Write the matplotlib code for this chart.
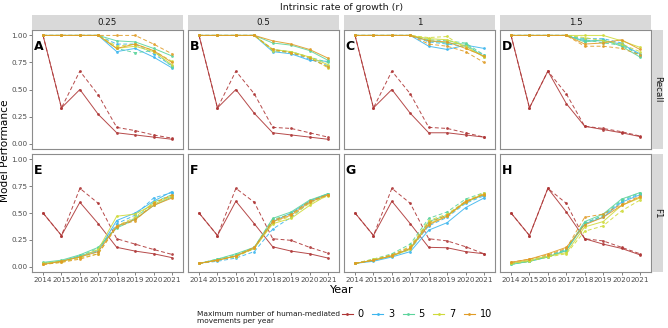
import matplotlib
matplotlib.use('Agg')
import matplotlib.pyplot as plt
from matplotlib.patches import Rectangle
from matplotlib.lines import Line2D

years = [2014, 2015, 2016, 2017, 2018, 2019, 2020, 2021]
growth_rates = ['0.25', '0.5', '1', '1.5']
movement_levels = [0, 3, 5, 7, 10]
recall_letters = ['A', 'B', 'C', 'D']
f1_letters = ['E', 'F', 'G', 'H']
level_colors = {0: '#AE3636', 3: '#3DB6EE', 5: '#5CD49C', 7: '#CFDA3A', 10: '#E09C26'}

# ---------------- Recall ----------------
recall_025_solid = {
    0: [1.0, 0.33, 0.50, 0.27, 0.10, 0.08, 0.06, 0.04],
    3: [1.0, 1.0, 1.0, 1.0, 0.85, 0.88, 0.80, 0.70],
    5: [1.0, 1.0, 1.0, 1.0, 0.95, 0.94, 0.88, 0.81],
    7: [1.0, 1.0, 1.0, 1.0, 0.88, 0.90, 0.85, 0.73],
    10: [1.0, 1.0, 1.0, 1.0, 0.88, 0.92, 0.86, 0.75],
}
recall_025_dashed = {
    0: [1.0, 0.33, 0.67, 0.45, 0.15, 0.12, 0.08, 0.05],
    3: [1.0, 1.0, 1.0, 1.0, 0.92, 0.92, 0.83, 0.72],
    5: [1.0, 1.0, 1.0, 1.0, 0.88, 0.84, 0.86, 0.71],
    7: [1.0, 1.0, 1.0, 1.0, 0.90, 0.92, 0.86, 0.76],
    10: [1.0, 1.0, 1.0, 1.0, 1.0, 1.0, 0.92, 0.83],
}
recall_05_solid = {
    0: [1.0, 0.33, 0.50, 0.28, 0.10, 0.08, 0.06, 0.04],
    3: [1.0, 1.0, 1.0, 1.0, 0.85, 0.83, 0.77, 0.76],
    5: [1.0, 1.0, 1.0, 1.0, 0.93, 0.91, 0.86, 0.77],
    7: [1.0, 1.0, 1.0, 1.0, 0.87, 0.85, 0.80, 0.73],
    10: [1.0, 1.0, 1.0, 1.0, 0.95, 0.92, 0.87, 0.79],
}
recall_05_dashed = {
    0: [1.0, 0.33, 0.67, 0.46, 0.15, 0.14, 0.10, 0.06],
    3: [1.0, 1.0, 1.0, 1.0, 0.86, 0.84, 0.78, 0.72],
    5: [1.0, 1.0, 1.0, 1.0, 0.87, 0.85, 0.80, 0.75],
    7: [1.0, 1.0, 1.0, 1.0, 0.86, 0.84, 0.80, 0.70],
    10: [1.0, 1.0, 1.0, 1.0, 0.87, 0.84, 0.79, 0.71],
}
recall_1_solid = {
    0: [1.0, 0.33, 0.50, 0.28, 0.10, 0.10, 0.08, 0.06],
    3: [1.0, 1.0, 1.0, 1.0, 0.90, 0.87, 0.91, 0.88],
    5: [1.0, 1.0, 1.0, 1.0, 0.95, 0.93, 0.92, 0.80],
    7: [1.0, 1.0, 1.0, 1.0, 0.97, 0.96, 0.90, 0.80],
    10: [1.0, 1.0, 1.0, 1.0, 0.95, 0.94, 0.88, 0.81],
}
recall_1_dashed = {
    0: [1.0, 0.33, 0.67, 0.46, 0.15, 0.14, 0.10, 0.06],
    3: [1.0, 1.0, 1.0, 1.0, 0.94, 0.92, 0.90, 0.82],
    5: [1.0, 1.0, 1.0, 1.0, 0.96, 0.95, 0.93, 0.82],
    7: [1.0, 1.0, 1.0, 1.0, 0.98, 0.99, 0.88, 0.81],
    10: [1.0, 1.0, 1.0, 1.0, 0.92, 0.90, 0.85, 0.75],
}
recall_15_solid = {
    0: [1.0, 0.33, 0.67, 0.37, 0.16, 0.13, 0.10, 0.065],
    3: [1.0, 1.0, 1.0, 1.0, 0.95, 0.95, 0.92, 0.83],
    5: [1.0, 1.0, 1.0, 1.0, 0.94, 0.96, 0.90, 0.80],
    7: [1.0, 1.0, 1.0, 1.0, 1.0, 1.0, 0.95, 0.89],
    10: [1.0, 1.0, 1.0, 1.0, 0.92, 0.93, 0.96, 0.87],
}
recall_15_dashed = {
    0: [1.0, 0.33, 0.67, 0.46, 0.16, 0.14, 0.11, 0.07],
    3: [1.0, 1.0, 1.0, 1.0, 0.97, 0.97, 0.93, 0.81],
    5: [1.0, 1.0, 1.0, 1.0, 0.96, 0.93, 0.91, 0.82],
    7: [1.0, 1.0, 1.0, 1.0, 0.98, 0.95, 0.92, 0.85],
    10: [1.0, 1.0, 1.0, 1.0, 0.90, 0.90, 0.88, 0.82],
}

# ---------------- F1 ----------------
f1_025_solid = {
    0: [0.50, 0.29, 0.60, 0.40, 0.18, 0.145, 0.12, 0.084],
    3: [0.03, 0.05, 0.10, 0.15, 0.43, 0.50, 0.61, 0.70],
    5: [0.04, 0.06, 0.11, 0.18, 0.36, 0.44, 0.57, 0.65],
    7: [0.03, 0.05, 0.09, 0.16, 0.47, 0.49, 0.58, 0.66],
    10: [0.02, 0.05, 0.09, 0.14, 0.38, 0.44, 0.57, 0.64],
}
f1_025_dashed = {
    0: [0.50, 0.29, 0.73, 0.59, 0.26, 0.21, 0.16, 0.114],
    3: [0.03, 0.05, 0.09, 0.14, 0.40, 0.48, 0.64, 0.69],
    5: [0.03, 0.05, 0.10, 0.17, 0.37, 0.45, 0.60, 0.67],
    7: [0.02, 0.04, 0.08, 0.12, 0.38, 0.46, 0.60, 0.66],
    10: [0.02, 0.04, 0.07, 0.12, 0.37, 0.43, 0.59, 0.67],
}
f1_05_solid = {
    0: [0.50, 0.29, 0.61, 0.40, 0.185, 0.145, 0.12, 0.08],
    3: [0.03, 0.06, 0.10, 0.17, 0.42, 0.50, 0.61, 0.68],
    5: [0.03, 0.07, 0.12, 0.18, 0.45, 0.51, 0.62, 0.68],
    7: [0.03, 0.06, 0.10, 0.17, 0.40, 0.45, 0.57, 0.67],
    10: [0.03, 0.06, 0.10, 0.18, 0.42, 0.48, 0.60, 0.67],
}
f1_05_dashed = {
    0: [0.50, 0.29, 0.73, 0.60, 0.26, 0.245, 0.18, 0.126],
    3: [0.03, 0.05, 0.08, 0.14, 0.35, 0.46, 0.60, 0.67],
    5: [0.03, 0.07, 0.11, 0.18, 0.44, 0.49, 0.61, 0.68],
    7: [0.03, 0.06, 0.09, 0.17, 0.41, 0.47, 0.59, 0.66],
    10: [0.03, 0.06, 0.10, 0.17, 0.43, 0.49, 0.61, 0.67],
}
f1_1_solid = {
    0: [0.50, 0.29, 0.61, 0.40, 0.18, 0.176, 0.14, 0.12],
    3: [0.03, 0.05, 0.09, 0.14, 0.34, 0.41, 0.55, 0.64],
    5: [0.03, 0.06, 0.10, 0.17, 0.42, 0.48, 0.60, 0.67],
    7: [0.03, 0.06, 0.10, 0.16, 0.40, 0.47, 0.60, 0.68],
    10: [0.03, 0.06, 0.10, 0.17, 0.39, 0.47, 0.61, 0.67],
}
f1_1_dashed = {
    0: [0.50, 0.29, 0.73, 0.59, 0.26, 0.24, 0.186, 0.12],
    3: [0.03, 0.06, 0.10, 0.16, 0.38, 0.46, 0.59, 0.66],
    5: [0.03, 0.07, 0.12, 0.21, 0.45, 0.51, 0.63, 0.69],
    7: [0.03, 0.07, 0.11, 0.19, 0.43, 0.49, 0.61, 0.69],
    10: [0.03, 0.06, 0.11, 0.18, 0.41, 0.48, 0.60, 0.68],
}
f1_15_solid = {
    0: [0.50, 0.29, 0.73, 0.51, 0.26, 0.21, 0.17, 0.11],
    3: [0.03, 0.05, 0.09, 0.15, 0.40, 0.46, 0.60, 0.67],
    5: [0.02, 0.05, 0.09, 0.15, 0.42, 0.49, 0.63, 0.69],
    7: [0.03, 0.06, 0.10, 0.13, 0.37, 0.42, 0.57, 0.64],
    10: [0.04, 0.07, 0.12, 0.18, 0.39, 0.46, 0.57, 0.65],
}
f1_15_dashed = {
    0: [0.50, 0.29, 0.73, 0.59, 0.26, 0.24, 0.18, 0.12],
    3: [0.03, 0.05, 0.10, 0.16, 0.41, 0.47, 0.61, 0.68],
    5: [0.02, 0.05, 0.10, 0.16, 0.40, 0.48, 0.62, 0.69],
    7: [0.03, 0.05, 0.09, 0.12, 0.33, 0.38, 0.52, 0.62],
    10: [0.04, 0.07, 0.11, 0.17, 0.46, 0.49, 0.58, 0.66],
}

recall_panels = [(recall_025_solid, recall_025_dashed), (recall_05_solid, recall_05_dashed),
                 (recall_1_solid, recall_1_dashed), (recall_15_solid, recall_15_dashed)]
f1_panels = [(f1_025_solid, f1_025_dashed), (f1_05_solid, f1_05_dashed),
             (f1_1_solid, f1_1_dashed), (f1_15_solid, f1_15_dashed)]

W, H = 668, 328
fig = plt.figure(figsize=(W / 100, H / 100), dpi=100)
fig.patch.set_facecolor('white')

col_left = [32, 188, 344, 500]
col_w = 151
row_top = [30, 154]
row_h = [119, 118]
strip_color = '#D9D9D9'
border_color = '#8C8C8C'
tick_color = '#4D4D4D'


def fig_rect(x, y, w, h):
    return [x / W, 1 - (y + h) / H, w / W, h / H]


def style_axis(ax, show_x, show_y):
    ax.set_xlim(2013.4, 2021.6)
    ax.set_ylim(-0.05, 1.05)
    ax.set_xticks(years)
    ax.set_yticks([0, 0.25, 0.5, 0.75, 1.0])
    ax.tick_params(length=2, width=0.5, color=tick_color, labelsize=5.2,
                   labelcolor=tick_color, pad=1.5)
    if show_x:
        ax.set_xticklabels([str(y) for y in years])
    else:
        ax.set_xticklabels([])
        ax.tick_params(axis='x', length=0)
    if show_y:
        ax.set_yticklabels(['0.00', '0.25', '0.50', '0.75', '1.00'])
    else:
        ax.set_yticklabels([])
        ax.tick_params(axis='y', length=0)
    for sp in ax.spines.values():
        sp.set_color(border_color)
        sp.set_linewidth(0.8)


def draw_panel(ax, solid, dashed):
    for lvl in movement_levels:
        c = level_colors[lvl]
        ax.plot(years, solid[lvl], color=c, lw=0.7, ls='-', marker='o', ms=2.0,
                mew=0, alpha=0.9)
        ax.plot(years, dashed[lvl], color=c, lw=0.7, ls=(0, (4, 2.5)), marker='o', ms=2.0,
                mew=0, alpha=0.9)


for ri, (panels, letters) in enumerate([(recall_panels, recall_letters), (f1_panels, f1_letters)]):
    for ci in range(4):
        ax = fig.add_axes(fig_rect(col_left[ci], row_top[ri], col_w, row_h[ri]))
        solid, dashed = panels[ci]
        draw_panel(ax, solid, dashed)
        style_axis(ax, show_x=(ri == 1), show_y=(ci == 0))
        ax.text(0.012, 0.915, letters[ci], transform=ax.transAxes, ha='left', va='top',
                fontsize=9, fontweight='bold', color='black')

# top strips
for ci in range(4):
    fig.patches.append(Rectangle(((col_left[ci]) / W, 1 - 29.5 / H), col_w / W, 14.5 / H,
                                 transform=fig.transFigure, facecolor=strip_color,
                                 edgecolor='none', zorder=0))
    fig.text((col_left[ci] + col_w / 2) / W, 1 - 22.3 / H, growth_rates[ci],
             ha='center', va='center', fontsize=6.3, color='#1A1A1A')

# right strips
for ri, lab in enumerate(['Recall', 'F1']):
    fig.patches.append(Rectangle((652 / W, 1 - (row_top[ri] + row_h[ri]) / H), 10.5 / W,
                                 row_h[ri] / H, transform=fig.transFigure,
                                 facecolor=strip_color, edgecolor='none', zorder=0))
    fig.text(657.3 / W, 1 - (row_top[ri] + row_h[ri] / 2) / H, lab, rotation=-90,
             ha='center', va='center', fontsize=6.3, color='#1A1A1A')

fig.text(341.5 / W, 1 - 7 / H, 'Intrinsic rate of growth (r)', ha='center', va='center',
         fontsize=6.8, color='#1A1A1A')
fig.text(5.5 / W, 1 - 151 / H, 'Model Performance', rotation=90, ha='center', va='center',
         fontsize=7.6, color='black')
fig.text(341.5 / W, 1 - 290 / H, 'Year', ha='center', va='center', fontsize=8, color='black')

# legend
fig.text(197 / W, 1 - 317.5 / H, 'Maximum number of human-mediated\nmovements per year',
         ha='left', va='center', fontsize=5.3, color='#1A1A1A', linespacing=1.15)
handles = [Line2D([0], [0], color=level_colors[l], lw=0.8, marker='o', ms=2.0, mew=0)
           for l in movement_levels]
labels = [str(l) for l in movement_levels]
fig.legend(handles, labels, loc='center left', bbox_to_anchor=(342 / W, 1 - 314 / H),
           ncol=5, frameon=False, fontsize=7, handlelength=1.1, handletextpad=0.5,
           columnspacing=0.9, borderaxespad=0, borderpad=0)

fig.savefig('out.png', dpi=100, facecolor='white')
